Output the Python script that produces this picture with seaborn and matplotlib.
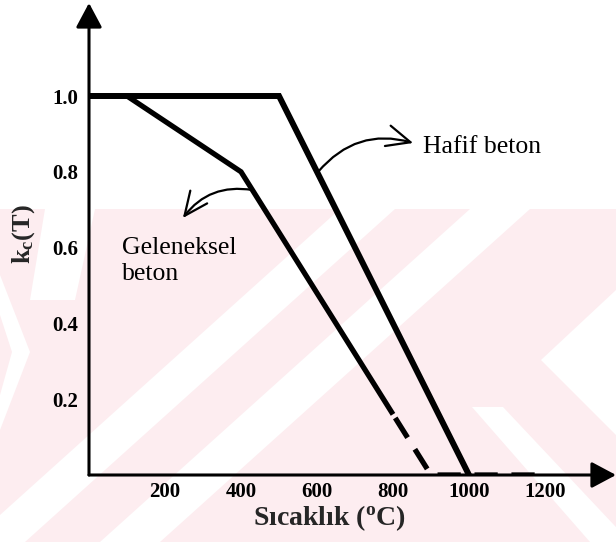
import matplotlib
matplotlib.use("Agg")
import matplotlib.pyplot as plt
import seaborn as sns
import pandas as pd
from matplotlib.patches import Polygon

# Reduction factor k_c(T) of concrete compressive strength vs temperature
temps_hafif = [0, 500, 1000]
kc_hafif = [1.0, 1.0, 0.0]

temps_geleneksel = [0, 100, 400, 800]
kc_geleneksel = [1.0, 1.0, 0.8, 0.16]

# extrapolated (dashed) tail of the normal-weight curve
temps_geleneksel_ext = [800, 900, 1200]
kc_geleneksel_ext = [0.16, 0.0, 0.0]

x_ticks = [200, 400, 600, 800, 1000, 1200]
y_ticks = [0.2, 0.4, 0.6, 0.8, 1.0]

sns.set_theme(style="white")
plt.rcParams["font.family"] = ["Liberation Serif", "DejaVu Serif"]
plt.rcParams["mathtext.fontset"] = "custom"
plt.rcParams["mathtext.rm"] = "Liberation Serif"
plt.rcParams["mathtext.bf"] = "Liberation Serif:bold"
plt.rcParams["mathtext.it"] = "Liberation Serif:italic"

W, H = 616, 542
fig = plt.figure(figsize=(W / 100, H / 100), dpi=100)
fig.patch.set_facecolor("white")


def to_fig(pts):
    return [(x / W, 1 - y / H) for x, y in pts]


# faint background pattern
pink = "#fdedf0"
fig.add_artist(Polygon(to_fig([(0, 209), (W, 209), (W, H), (0, H)]),
                       closed=True, facecolor=pink, edgecolor="none",
                       transform=fig.transFigure, zorder=-10))
white_shapes = [
    [(340, 209), (395, 209), (25, 542), (-30, 542)],
    [(470, 209), (530, 209), (160, 542), (100, 542)],
    [(45, 209), (95, 209), (75, 300), (30, 300)],
    [(0, 275), (30, 352), (0, 430), (0, 395), (12, 352), (0, 315)],
    [(616, 290), (541, 360), (616, 435)],
    [(472, 407), (503, 407), (630, 542), (590, 542)],
]
for shp in white_shapes:
    fig.add_artist(Polygon(to_fig(shp), closed=True, facecolor="white",
                           edgecolor="none", transform=fig.transFigure,
                           zorder=-9))

# axes: origin at pixel (89, 475)
x0, y0 = 89, 475
px_per_x, px_per_y = 0.38, 379
ax = fig.add_axes([x0 / W, (H - y0) / H, (W - x0) / W, (y0 - 3) / H])
ax.set_facecolor("none")
ax.set_xlim(0, (W - x0) / px_per_x)
ax.set_ylim(0, (y0 - 3) / px_per_y)

df_h = pd.DataFrame({"T": temps_hafif, "k": kc_hafif})
df_g = pd.DataFrame({"T": temps_geleneksel, "k": kc_geleneksel})
df_ge = pd.DataFrame({"T": temps_geleneksel_ext, "k": kc_geleneksel_ext})

sns.lineplot(data=df_h, x="T", y="k", ax=ax, color="black", lw=4.3,
             sort=False, estimator=None, solid_joinstyle="miter", zorder=3)
sns.lineplot(data=df_g, x="T", y="k", ax=ax, color="black", lw=3.8,
             sort=False, estimator=None, solid_joinstyle="miter",
             solid_capstyle="butt", zorder=3)
sns.lineplot(data=df_ge, x="T", y="k", ax=ax, color="black", lw=3.8,
             sort=False, estimator=None, linestyle=(6.2, (4.4, 2.6)),
             dash_capstyle="butt", zorder=3)

# axes drawn as arrows
for p in ax.spines.values():
    p.set_visible(False)
arrow_kw = dict(arrowstyle="-|>,head_length=0.6,head_width=0.32",
                lw=2.2, color="black", mutation_scale=25,
                shrinkA=0, shrinkB=0)
ax.annotate("", xy=(0, 1.0), xytext=(0, 0), xycoords="axes fraction",
            arrowprops=arrow_kw, annotation_clip=False, zorder=4)
ax.annotate("", xy=(1.0, 0), xytext=(0, 0), xycoords="axes fraction",
            arrowprops=arrow_kw, annotation_clip=False, zorder=4)

ax.set_xticks(x_ticks)
ax.set_yticks(y_ticks)
ax.set_xticklabels([str(v) for v in x_ticks])
ax.set_yticklabels([f"{v:.1f}" for v in y_ticks])
ax.tick_params(axis="x", direction="in", length=10, width=1.8,
               colors="black", labelsize=15, pad=5)
ax.tick_params(axis="y", direction="in", length=11, width=1.8,
               colors="black", labelsize=15, pad=8)
for lab in ax.get_xticklabels() + ax.get_yticklabels():
    lab.set_fontweight("bold")

ax.set_xlabel(r"Sıcaklık ($^{\mathbf{o}}$C)", fontsize=20,
              fontweight="bold")
ax.xaxis.set_label_coords((329 - x0) / (W - x0), (y0 - 518) / (y0 - 3))
ax.xaxis.label.set_va("center")
ax.set_ylabel(r"$\mathbf{k_c}$(T)", fontsize=19, fontweight="bold")
ax.yaxis.set_label_coords((24 - x0) / (W - x0), (y0 - 234) / (y0 - 3))
ax.yaxis.label.set_va("center")

# curve labels with curved pointers
ax.text(879, 0.866, "Hafif beton", fontsize=18.5, ha="left",
        va="center", color="black")
ax.annotate("", xy=(853, 0.876), xytext=(603, 0.80),
            arrowprops=dict(arrowstyle="->,head_length=0.85,head_width=0.38",
                            connectionstyle="arc3,rad=-0.32", lw=1.6,
                            color="black", mutation_scale=20,
                            shrinkA=0, shrinkB=0))
ax.text(87, 0.565, "Geleneksel\nbeton", fontsize=18.5, ha="left",
        va="center", color="black", linespacing=1.2)
ax.annotate("", xy=(247, 0.678), xytext=(430, 0.752),
            arrowprops=dict(arrowstyle="->,head_length=0.85,head_width=0.38",
                            connectionstyle="arc3,rad=0.3", lw=1.6,
                            color="black", mutation_scale=20,
                            shrinkA=0, shrinkB=0))

fig.savefig("out.png", dpi=100)
